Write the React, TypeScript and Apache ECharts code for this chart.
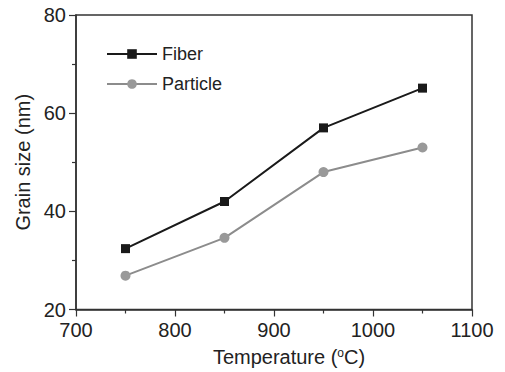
import React, { useEffect, useRef } from "react";
import * as echarts from "echarts";

const temperatures = [750, 850, 950, 1050];
const fiberValues = [32.4, 42, 57, 65.1];
const particleValues = [26.9, 34.6, 48, 53];
const seriesNames = ["Fiber", "Particle"];

export default function App() {
  const ref = useRef<HTMLDivElement>(null);
  useEffect(() => {
    if (!ref.current) return;
    const chart = echarts.init(ref.current, null, { renderer: "svg" });
    const font = "Liberation Sans, Arial, sans-serif";
    const axisColor = "#333";
    const textColor = "#222";
    chart.setOption({
      animation: false,
      backgroundColor: "#fff",
      grid: {
        left: 76,
        top: 15,
        right: 33,
        bottom: 59,
        show: true,
        borderColor: axisColor,
        borderWidth: 1.5,
      },
      legend: {
        orient: "vertical",
        left: 106,
        top: 45,
        padding: 0,
        itemWidth: 50,
        itemHeight: 12,
        itemGap: 12,
        textStyle: { fontFamily: font, fontSize: 18, color: textColor },
        data: seriesNames,
      },
      xAxis: {
        type: "value",
        min: 700,
        max: 1100,
        interval: 100,
        name: "Temperature ({sup|o}C)",
        nameLocation: "middle",
        nameGap: 37,
        nameTextStyle: {
          fontFamily: font,
          fontSize: 20,
          color: textColor,
          padding: [0, 0, 0, 30],
          rich: {
            sup: { fontFamily: font, fontSize: 12, color: textColor, verticalAlign: "top", padding: [0, 0, 9, 0] },
          },
        },
        axisLine: { show: true, lineStyle: { color: axisColor, width: 1.5 } },
        axisTick: { show: true, inside: false, length: 7, lineStyle: { color: axisColor, width: 1.2 } },
        minorTick: { show: true, splitNumber: 2, length: 4, lineStyle: { color: axisColor, width: 1.2 } },
        axisLabel: {
          fontFamily: font,
          fontSize: 20,
          color: textColor,
          margin: 10,
          formatter: (v: number) => String(v),
        },
        splitLine: { show: false },
      },
      yAxis: {
        type: "value",
        min: 20,
        max: 80,
        interval: 20,
        name: "Grain size (nm)",
        nameLocation: "middle",
        nameGap: 43,
        nameTextStyle: { fontFamily: font, fontSize: 20, color: textColor },
        axisLine: { show: true, lineStyle: { color: axisColor, width: 1.5 } },
        axisTick: { show: true, inside: false, length: 7, lineStyle: { color: axisColor, width: 1.2 } },
        minorTick: { show: true, splitNumber: 2, length: 4, lineStyle: { color: axisColor, width: 1.2 } },
        axisLabel: { fontFamily: font, fontSize: 20, color: textColor, margin: 10 },
        splitLine: { show: false },
      },
      series: [
        {
          name: seriesNames[0],
          type: "line",
          data: temperatures.map((t, i) => [t, fiberValues[i]]),
          symbol: "rect",
          symbolSize: 9,
          lineStyle: { color: "#1a1a1a", width: 2 },
          itemStyle: { color: "#1a1a1a" },
        },
        {
          name: seriesNames[1],
          type: "line",
          data: temperatures.map((t, i) => [t, particleValues[i]]),
          symbol: "circle",
          symbolSize: 10,
          lineStyle: { color: "#8c8c8c", width: 2 },
          itemStyle: { color: "#999" },
        },
      ],
    });
    return () => chart.dispose();
  }, []);
  return (
    <div
      ref={ref}
      style={{ position: "fixed", left: 0, top: 0, width: 505, height: 372, background: "#fff" }}
    />
  );
}
